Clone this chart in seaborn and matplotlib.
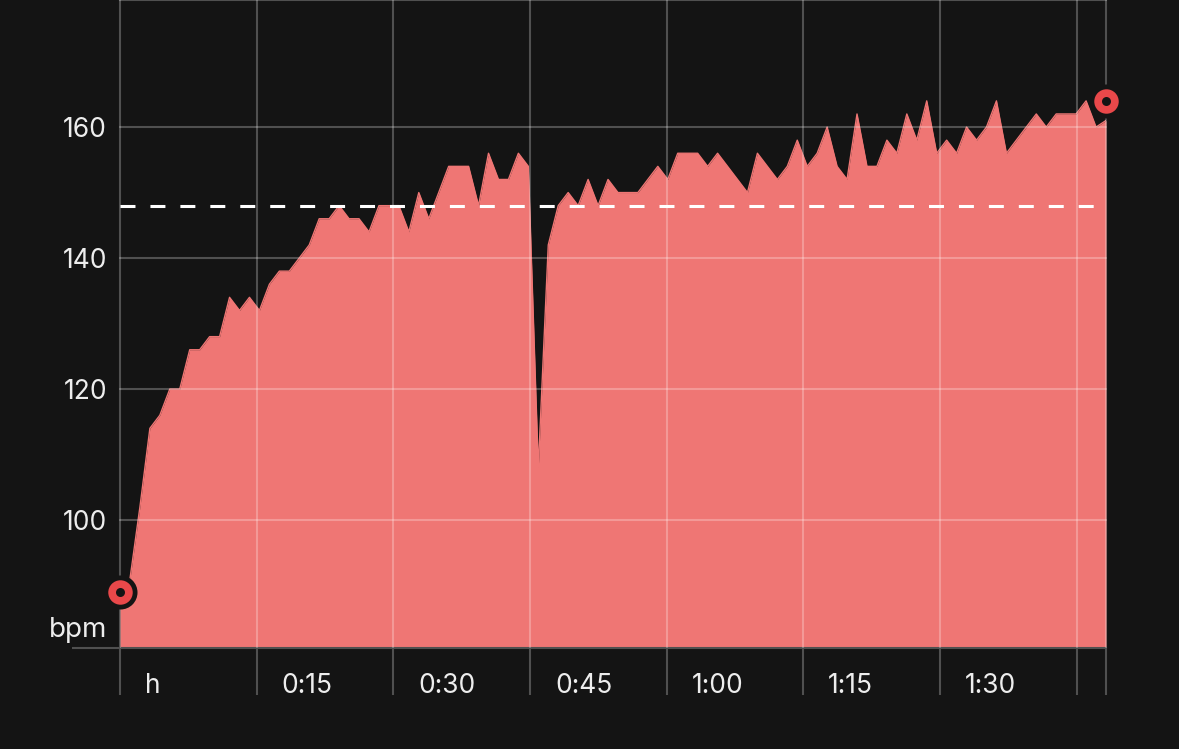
import numpy as np
import matplotlib
matplotlib.use("Agg")
import matplotlib.pyplot as plt
import seaborn as sns

# heart rate samples (bpm), one roughly every 66 s
bpm = [89, 91, 102, 114, 116, 120, 120, 126, 126, 128,
       128, 134, 132, 134, 132, 136, 138, 138, 140, 142,
       146, 146, 148, 146, 146, 144, 148, 148, 148, 144,
       150, 146, 150, 154, 154, 154, 148, 156, 152, 152,
       156, 154, 108, 142, 148, 150, 148, 152, 148, 152,
       150, 150, 150, 152, 154, 152, 156, 156, 156, 154,
       156, 154, 152, 150, 156, 154, 152, 154, 158, 154,
       156, 160, 154, 152, 162, 154, 154, 158, 156, 162,
       158, 164, 156, 158, 156, 160, 158, 160, 164, 156,
       158, 160, 162, 160, 162, 162, 162, 164, 160, 161]
sample_min = 1.0933
avg_bpm = 148

x_ticks = [0, 15, 30, 45, 60, 75, 90, 105]
x_labels = ["h", "0:15", "0:30", "0:45", "1:00", "1:15", "1:30", ""]
y_ticks = [100, 120, 140, 160]
y_min, y_max = 80.46, 179.4

minutes = np.arange(len(bpm)) * sample_min
end_min = minutes[-1]

bg = "#141414"
fill = "#EF7674"
red = "#E9484A"
line_gray = "#505050"
txt = "#EDEDED"

sns.set_theme(style="dark")
plt.rcParams["font.family"] = ["Inter", "DejaVu Sans"]

fig = plt.figure(figsize=(11.79, 7.49), dpi=100, facecolor=bg)
ax = fig.add_axes([120 / 1179, 101 / 749, 986 / 1179, 648 / 749])
ax.set_facecolor(bg)

# area
ax.fill_between(minutes, bpm, y_min, color=fill, lw=0, zorder=1)
sns.lineplot(x=minutes, y=bpm, color=fill, lw=1, ax=ax, zorder=1.1)

# average
ax.axhline(avg_bpm, color="white", lw=2.2, ls=(0, (4.9, 4.9)), zorder=3)

# min / max markers
mx = [0, end_min]
my = [min(bpm), max(bpm)]
sns.scatterplot(x=mx, y=my, s=600, color=bg, linewidth=0, ax=ax, zorder=5, clip_on=False)
sns.scatterplot(x=mx, y=my, s=310, color=red, linewidth=0, ax=ax, zorder=6, clip_on=False)
sns.scatterplot(x=mx, y=my, s=42, color=bg, linewidth=0, ax=ax, zorder=7, clip_on=False)

ax.set_xlim(0, end_min)
ax.set_ylim(y_min, y_max)

ax.set_xticks(x_ticks + [end_min])
ax.set_xticklabels([])
ax.tick_params(axis="x", bottom=True, length=47 * 0.72, width=1.5,
               color=line_gray, direction="out")

ax.set_yticks(y_ticks)
ax.tick_params(axis="y", left=True, length=0, pad=9.4, labelsize=19, labelcolor=txt)
ax.set_yticks([y_min], minor=True)
ax.set_yticklabels([""], minor=True)
ax.tick_params(axis="y", which="minor", left=True, length=48 * 0.72, width=1.5,
               color=line_gray, direction="out")

ax.set_axisbelow(False)
ax.grid(True, color="white", alpha=0.26, lw=1.5, zorder=2.5)
for gl in ax.get_xgridlines() + ax.get_ygridlines():
    gl.set_clip_on(False)

for side in ["left", "right"]:
    ax.spines[side].set_visible(False)
for side in ["top", "bottom"]:
    ax.spines[side].set_color(line_gray)
    ax.spines[side].set_linewidth(1.5)

for m, lab in zip(x_ticks, x_labels):
    ax.annotate(lab, xy=(m, 0), xycoords=ax.get_xaxis_transform(),
                xytext=(18, -32.4), textcoords="offset points",
                ha="left", va="baseline", fontsize=19, color=txt)

ax.annotate("bpm", xy=(0, y_min), xycoords=ax.get_yaxis_transform(),
            xytext=(-9.4, 3.5), textcoords="offset points",
            ha="right", va="bottom", fontsize=20, color=txt)

ax.set_xlabel("")
ax.set_ylabel("")

fig.savefig("out.png", dpi=100, facecolor=bg)
